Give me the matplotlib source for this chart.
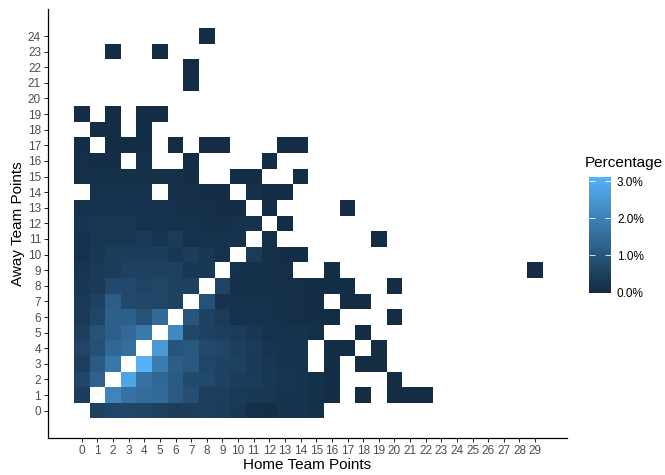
import numpy as np
import matplotlib
matplotlib.use("Agg")
from matplotlib import pyplot as plt
from matplotlib.colors import LinearSegmentedColormap, Normalize
from matplotlib.cm import ScalarMappable

plt.rcParams['font.family'] = ['Liberation Sans', 'DejaVu Sans']

_ = None
home_points = list(range(30))
away_points = list(range(25))

# share of games (%) for each final score, one list per away score, index = home points
pct_rows = [
    [_, .50, .62, .60, .58, .50, .40, .42, .45, .40, .30, .10, .08, .20, .20, .12],                      # away 0
    [.42, _, 2.05, 1.65, 1.50, 1.45, 1.10, .82, .46, .46, .35, .30, .26, .21, .21, .12, .08, _, .03, _, .03, .03, .03],
    [.65, 1.25, _, 2.82, 1.62, 1.40, 1.12, .72, .68, .53, .42, .37, .30, .24, .21, .12, .08, _, _, _, .03],
    [.46, 1.10, 1.75, _, 3.10, 1.90, 1.18, 1.04, .65, .53, .51, .35, .28, .21, .18, _, .05, _, .03, .03],
    [.60, .85, 1.40, 1.55, _, 2.56, .95, 1.04, .69, .62, .46, .37, .23, .21, .20, _, .05, .05, _, .03],
    [.49, .92, 1.20, 1.43, 1.80, _, 2.15, .65, .53, .46, .39, .30, .18, .16, .16, .12, _, _, .03],      # away 5
    [.35, .62, 1.22, 1.22, .90, 1.46, _, 1.00, .53, .37, .14, .14, .14, .12, .10, .08, .06, _, _, _, .03],
    [.35, .53, 1.18, .69, .65, .65, .53, _, .92, .16, .14, .14, .14, .12, .10, .08, _, .03, .03],
    [.30, .35, .69, .69, .55, .62, .51, .51, _, .58, .12, .12, .12, .10, .10, .08, .06, .05, _, _, .03],
    [.25, .35, .37, .51, .51, .51, .51, .30, .30, _, .14, .12, .12, .10, _, _, .04,
     _, _, _, _, _, _, _, _, _, _, _, _, .03],
    [.14, .30, .42, .42, .42, .42, .28, .42, .28, .14, _, .37, .10, .08, .06],                           # away 10
    [.18, .28, .28, .28, .35, .25, .37, .14, .14, .14, .14, _, .10, _, _, _, _, _, _, .03],
    [.25, .28, .28, .28, .14, .14, .14, .14, .12, .10, .14, .18, _, .05],
    [.14, .20, .20, .20, .18, .14, .14, .10, .10, .08, .06, _, .05, _, _, _, _, .03],
    [_, .18, .18, .18, .18, _, .12, .10, .08, .06, _, .12, .05, .05],
    [.10, .12, .12, .12, .10, .10, .10, .08, _, _, .05, .05, _, _, .03],                                 # away 15
    [.10, .08, .08, _, .10, _, _, .05, _, _, _, _, .03],
    [.06, _, .06, .06, .08, _, .03, _, .03, .03, _, _, _, .03, .03],
    [_, .04, .04, _, .05],
    [.03, _, .03, _, .05, .03],
    [],                                                                                                   # away 20
    [_, _, _, _, _, _, _, .03],
    [_, _, _, _, _, _, _, .03],
    [_, _, .03, _, _, .03],
    [_, _, _, _, _, _, _, _, .03],
]

grid = np.full((len(away_points), len(home_points)), np.nan)
for a, row in enumerate(pct_rows):
    for h, v in enumerate(row):
        if v is not None:
            grid[a, h] = v
grid = np.ma.masked_invalid(grid)

cmap = LinearSegmentedColormap.from_list('gg', ['#132B43', '#56B1F7'])
norm = Normalize(0, 3.1)

W, H = 665, 475
fig = plt.figure(figsize=(W / 100, H / 100), dpi=100)
ax = fig.add_axes([48 / W, (H - 438) / H, (567 - 48) / W, (438 - 8.7) / H])

x_edges = np.arange(len(home_points) + 1) - 0.5
y_edges = np.arange(len(away_points) + 1) - 0.5
ax.pcolormesh(x_edges, y_edges, grid, cmap=cmap, norm=norm)

ax.set_xlim(-2.16, 31.04)
ax.set_ylim(-1.75, 25.75)
ax.set_xticks(home_points)
ax.set_yticks(away_points)
ax.tick_params(labelsize=8.5, labelcolor='#4d4d4d', length=3, width=0.6, pad=2)
for s in ['top', 'right']:
    ax.spines[s].set_visible(False)
for s in ['left', 'bottom']:
    ax.spines[s].set_linewidth(0.9)
ax.set_xlabel('Home Team Points', fontsize=11, labelpad=1)
ax.set_ylabel('Away Team Points', fontsize=11, labelpad=2)

# legend colorbar
cax = fig.add_axes([589 / W, (H - 292.7) / H, 22.4 / W, 115.4 / H])
cb = fig.colorbar(ScalarMappable(norm=norm, cmap=cmap), cax=cax)
cb.outline.set_visible(False)
cb.set_ticks([0, 1, 2, 3])
cb.set_ticklabels(['0.0%', '1.0%', '2.0%', '3.0%'])
cax.yaxis.set_ticks_position('both')
cax.tick_params(direction='in', length=4, width=0.6, color='white', labelsize=8.5,
                labelleft=False, labelright=True, pad=4)
fig.text(585 / W, 1 - 163 / H, 'Percentage', fontsize=11, va='center', ha='left')

fig.savefig('out.png', dpi=100)
